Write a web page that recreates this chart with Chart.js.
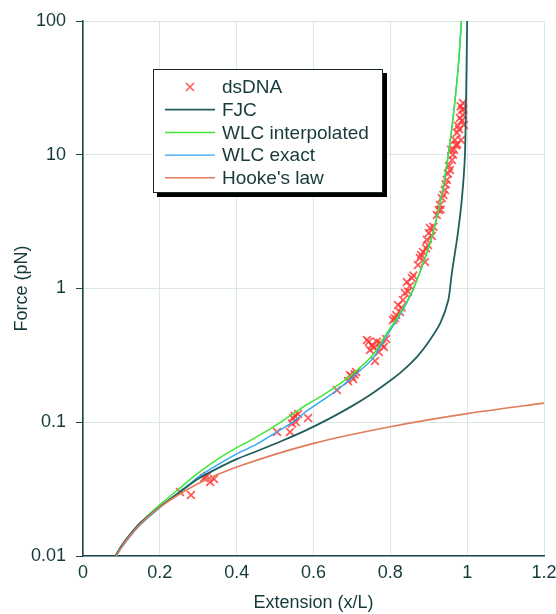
<!DOCTYPE html>
<html>
<head>
<meta charset="utf-8">
<script src="https://cdn.jsdelivr.net/npm/chart.js@4.4.1/dist/chart.umd.min.js"></script>
<style>
  html, body { margin: 0; padding: 0; background: #ffffff; }
  #wrap { width: 556px; height: 614px; }
</style>
</head>
<body>
<div id="wrap"><canvas id="c" width="556" height="614"></canvas></div>
<script>
// ---- Tick values / labels ----
const xTickValues = [0, 0.2, 0.4, 0.6, 0.8, 1.0, 1.2];
const xTickLabels = ["0", "0.2", "0.4", "0.6", "0.8", "1", "1.2"];
const yTickValues = [0.01, 0.1, 1, 10, 100];
const yTickLabels = ["0.01", "0.1", "1", "10", "100"];

// ---- Series labels ----
const seriesLabels = ["dsDNA", "FJC", "WLC interpolated", "WLC exact", "Hooke's law"];

// ---- dsDNA measurements (extension x/L, force pN) ----
const dsdnaX = [0.2525, 0.281, 0.315, 0.331, 0.341, 0.323,
  0.505, 0.539, 0.547, 0.560, 0.586, 0.554, 0.551, 0.544,
  0.661, 0.695, 0.703, 0.690, 0.711, 0.699, 0.707,
  0.739, 0.752, 0.773, 0.783, 0.760, 0.747, 0.789, 0.770, 0.744, 0.765, 0.778, 0.757,
  0.807, 0.820, 0.833, 0.843, 0.856, 0.825, 0.838, 0.851, 0.815, 0.812, 0.829, 0.846, 0.860,
  0.877, 0.885, 0.895, 0.890, 0.903, 0.898, 0.872, 0.908, 0.880, 0.893, 0.900, 0.912,
  0.921, 0.929, 0.934, 0.942, 0.947, 0.955, 0.9605, 0.926, 0.931, 0.938, 0.944, 0.950,
  0.9656, 0.968, 0.9735, 0.981, 0.9865, 0.989, 0.976, 0.971, 0.984, 0.9917, 0.958, 0.9526, 0.989,
  0.963, 0.974, 0.979, 0.986, 0.990, 0.983];
const dsdnaF = [0.0301, 0.0286, 0.0383, 0.0357, 0.0377, 0.0396,
  0.0845, 0.0845, 0.1076, 0.1153, 0.1076, 0.1005, 0.112, 0.098,
  0.174, 0.2255, 0.2105, 0.203, 0.2375, 0.22, 0.228,
  0.412, 0.378, 0.392, 0.366, 0.287, 0.347, 0.419, 0.335, 0.40, 0.40, 0.38, 0.36,
  0.581, 0.753, 0.82, 1.12, 1.2, 0.667, 0.925, 1.045, 0.634, 0.60, 0.72, 0.95, 1.25,
  1.69, 1.875, 2.31, 1.58, 2.83, 2.11, 1.5, 2.47, 1.78, 2.0, 2.6, 2.9,
  3.55, 4.21, 4.75, 5.45, 6.47, 7.69, 9.14, 3.86, 3.9, 5.0, 6.0, 7.2,
  10.9, 12.9, 14.6, 18.8, 21.6, 24.4, 16.4, 11.8, 12.9, 16.7, 10.9, 8.24, 19.8,
  10.0, 12.0, 15.5, 18.0, 22.0, 23.0];

// ---- FJC model ----
const fjcX = [0.084, 0.1, 0.12, 0.15, 0.2, 0.25, 0.3, 0.35, 0.4, 0.46, 0.52, 0.58, 0.64, 0.7, 0.75, 0.8, 0.83, 0.87, 0.9, 0.93, 0.951, 0.96, 0.975, 0.986, 0.994, 0.997, 0.999, 1.0];
const fjcF = [0.010, 0.0119, 0.0142, 0.0178, 0.0233, 0.0298, 0.0378, 0.0452, 0.053, 0.062, 0.073, 0.087, 0.106, 0.132, 0.162, 0.205, 0.24, 0.31, 0.40, 0.55, 0.82, 1.3, 2.5, 4.6, 9.7, 25, 60, 100];

// ---- WLC interpolated model ----
const wlciX = [0.087, 0.1, 0.13, 0.16, 0.2, 0.25, 0.3, 0.35, 0.4, 0.435, 0.495, 0.54, 0.58, 0.63, 0.67, 0.71, 0.755, 0.79, 0.82, 0.855, 0.88, 0.903, 0.92, 0.938, 0.955, 0.968, 0.978, 0.985];
const wlciF = [0.010, 0.0118, 0.0153, 0.0190, 0.0241, 0.0318, 0.0418, 0.0528, 0.0645, 0.073, 0.092, 0.112, 0.134, 0.163, 0.195, 0.24, 0.32, 0.46, 0.62, 0.93, 1.4, 2.18, 3.3, 5.8, 12.2, 25, 50, 100];

// ---- WLC exact model ----
const wlceX = [0.087, 0.1, 0.12, 0.15, 0.2, 0.25, 0.3, 0.35, 0.41, 0.45, 0.5, 0.55, 0.58, 0.63, 0.67, 0.71, 0.755, 0.79, 0.82, 0.855, 0.88, 0.903, 0.92, 0.938, 0.955, 0.968, 0.978, 0.985];
const wlceF = [0.010, 0.0115, 0.0137, 0.0172, 0.0230, 0.0298, 0.0390, 0.048, 0.060, 0.068, 0.083, 0.102, 0.120, 0.150, 0.182, 0.228, 0.30, 0.44, 0.60, 0.92, 1.4, 2.18, 3.3, 5.8, 12.2, 25, 50, 100];

// ---- Hooke's law ----
const hookeX = [0.086, 0.1, 0.12, 0.15, 0.2, 0.3, 0.4, 0.6, 0.8, 1.0, 1.2];
const hookeF = [0.010, 0.0116, 0.0139, 0.0174, 0.0232, 0.0348, 0.0463, 0.0695, 0.0926, 0.116, 0.139];

// ---- Styles ----
const FONT = '"Liberation Sans", Arial, Helvetica, sans-serif';
const textColor = '#163a3a';
const axisColor = '#1d4848';
const gridColor = '#dbe6e6';
const colors = {
  dsDNA: 'rgba(255,50,50,0.8)',
  fjc: '#215e5c',
  wlci: '#3fe634',
  wlce: '#2fa6f2',
  hooke: '#e07c58'
};

const pts = (xs, ys) => xs.map((x, i) => ({ x: x, y: ys[i] }));

function lineDs(label, xs, ys, color, width) {
  return {
    label: label, data: pts(xs, ys), showLine: true, borderColor: color,
    backgroundColor: color, borderWidth: width, pointRadius: 0,
    tension: 0.25, fill: false
  };
}

const datasets = [
  lineDs(seriesLabels[4], hookeX, hookeF, colors.hooke, 1.6),
  lineDs(seriesLabels[1], fjcX, fjcF, colors.fjc, 1.8),
  lineDs(seriesLabels[2], wlciX, wlciF, colors.wlci, 1.5),
  lineDs(seriesLabels[3], wlceX, wlceF, colors.wlce, 1.4),
  {
    label: seriesLabels[0], data: pts(dsdnaX, dsdnaF), showLine: false,
    pointStyle: 'crossRot', pointRadius: 5.5, pointBorderWidth: 1.8,
    borderColor: colors.dsDNA, backgroundColor: colors.dsDNA
  }
];

const legendOrder = [
  { label: seriesLabels[0], color: colors.dsDNA, marker: true },
  { label: seriesLabels[1], color: colors.fjc, width: 1.8 },
  { label: seriesLabels[2], color: colors.wlci, width: 1.5 },
  { label: seriesLabels[3], color: colors.wlce, width: 1.4 },
  { label: seriesLabels[4], color: colors.hooke, width: 1.6 }
];

const boxLegend = {
  id: 'boxLegend',
  afterDraw(chart) {
    const ctx = chart.ctx;
    const bx = 153, by = 69, bw = 230, bh = 124;
    ctx.save();
    ctx.fillStyle = '#000000';
    ctx.fillRect(bx + 4, by + 4, bw, bh);
    ctx.fillStyle = '#ffffff';
    ctx.fillRect(bx, by, bw, bh);
    ctx.strokeStyle = '#1a2a2a';
    ctx.lineWidth = 1;
    ctx.strokeRect(bx + 0.5, by + 0.5, bw - 1, bh - 1);
    ctx.font = '19px ' + FONT;
    ctx.textBaseline = 'middle';
    ctx.textAlign = 'left';
    legendOrder.forEach((e, i) => {
      const cy = 87 + i * 22.7;
      if (e.marker) {
        ctx.strokeStyle = e.color;
        ctx.lineWidth = 1.6;
        const cx = 190, r = 4;
        ctx.beginPath();
        ctx.moveTo(cx - r, cy - r); ctx.lineTo(cx + r, cy + r);
        ctx.moveTo(cx + r, cy - r); ctx.lineTo(cx - r, cy + r);
        ctx.stroke();
      } else {
        ctx.strokeStyle = e.color;
        ctx.lineWidth = e.width;
        ctx.beginPath();
        ctx.moveTo(165, cy); ctx.lineTo(215, cy);
        ctx.stroke();
      }
      ctx.fillStyle = textColor;
      ctx.fillText(e.label, 222, cy + 1);
    });
    ctx.restore();
  }
};

new Chart(document.getElementById('c').getContext('2d'), {
  type: 'scatter',
  data: { datasets: datasets },
  plugins: [boxLegend],
  options: {
    responsive: false,
    animation: false,
    layout: { padding: { top: 21, right: 12, left: 0, bottom: 0 } },
    plugins: { legend: { display: false }, tooltip: { enabled: false } },
    scales: {
      x: {
        type: 'linear', min: 0, max: 1.2,
        afterBuildTicks: s => { s.ticks = xTickValues.map(v => ({ value: v })); },
        afterFit: s => { s.height = 58; s.paddingRight = 0; s.paddingLeft = 0; },
        ticks: {
          callback: (v, i) => xTickLabels[i],
          font: { family: FONT, size: 18 }, color: textColor,
          padding: 6, maxRotation: 0, autoSkip: false
        },
        grid: { color: gridColor, drawTicks: false, lineWidth: 1 },
        border: { color: axisColor, width: 1.6 },
        title: {
          display: true, text: 'Extension (x/L)',
          font: { family: FONT, size: 18 }, color: textColor,
          padding: { top: 0, bottom: 0 }
        }
      },
      y: {
        type: 'logarithmic', min: 0.01, max: 100,
        afterBuildTicks: s => { s.ticks = yTickValues.map(v => ({ value: v })); },
        afterFit: s => { s.width = 83; s.paddingTop = 0; s.paddingBottom = 0; },
        ticks: {
          callback: (v, i) => yTickLabels[i],
          font: { family: FONT, size: 18 }, color: textColor,
          padding: 10, autoSkip: false
        },
        grid: { color: gridColor, tickColor: axisColor, tickLength: 7, lineWidth: 1 },
        border: { color: axisColor, width: 1.6 },
        title: {
          display: true, text: 'Force (pN)',
          font: { family: FONT, size: 18 }, color: textColor,
          padding: { top: 11, bottom: 0 }
        }
      }
    }
  }
});
</script>
</body>
</html>
